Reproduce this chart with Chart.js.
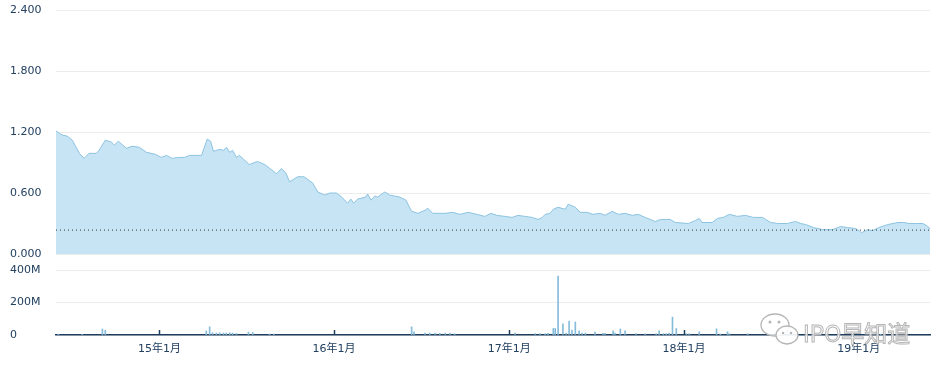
<!DOCTYPE html>
<html>
<head>
<meta charset="utf-8">
<script src="https://cdn.jsdelivr.net/npm/chart.js@4"></script>
<style>
  body { margin: 0; background: #fff; }
  #wrap { position: relative; width: 940px; height: 372px; overflow: hidden; }
  #top { position: absolute; left: 0; top: 0; }
  #bottom { position: absolute; left: 0; top: 262px; }
  #mark { position: absolute; left: 759px; top: 312px; pointer-events: none; }
  #mark span {
    position: absolute; left: 44px; top: 3px; white-space: nowrap;
    font: 23px 'Noto Sans CJK SC', 'DejaVu Sans', sans-serif;
    color: rgba(255,255,255,0.75); -webkit-text-stroke: 1px #b5b5b5;
  }
</style>
</head>
<body>
<div id="wrap">
  <canvas id="top" width="940" height="262"></canvas>
  <canvas id="bottom" width="940" height="110"></canvas>
  <div id="mark">
    <svg width="44" height="36" viewBox="0 0 44 36">
      <ellipse cx="16" cy="13" rx="14" ry="11" fill="rgba(255,255,255,0.8)" stroke="#b5b5b5" stroke-width="1.3"/>
      <ellipse cx="28" cy="23" rx="11" ry="9" fill="rgba(255,255,255,0.9)" stroke="#b5b5b5" stroke-width="1.3"/>
      <circle cx="11" cy="10" r="1.5" fill="#b5b5b5"/>
      <circle cx="20" cy="10" r="1.5" fill="#b5b5b5"/>
      <circle cx="24" cy="21" r="1.2" fill="#b5b5b5"/>
      <circle cx="32" cy="21" r="1.2" fill="#b5b5b5"/>
    </svg>
    <span>IPO早知道</span>
  </div>
</div>
<script>
// price (close) series
var priceDates = [
  "2014-05-30","2014-06-12","2014-06-22","2014-07-03","2014-07-18","2014-07-28","2014-08-07","2014-08-22",
  "2014-08-28","2014-09-10","2014-09-23","2014-09-29","2014-10-07","2014-10-24","2014-11-05","2014-11-20",
  "2014-12-05","2014-12-24","2015-01-05","2015-01-16","2015-01-28","2015-02-08","2015-02-22","2015-03-05",
  "2015-03-30","2015-04-05","2015-04-11","2015-04-18","2015-04-24","2015-05-07","2015-05-15","2015-05-21",
  "2015-05-28","2015-06-03","2015-06-11","2015-06-17","2015-07-08","2015-07-25","2015-08-09","2015-09-03",
  "2015-09-13","2015-09-22","2015-09-30","2015-10-17","2015-10-30","2015-11-11","2015-11-17","2015-11-28",
  "2015-12-12","2015-12-23","2016-01-06","2016-01-17","2016-01-29","2016-02-05","2016-02-11","2016-02-19",
  "2016-03-07","2016-03-11","2016-03-18","2016-03-26","2016-04-01","2016-04-16","2016-04-26","2016-05-07",
  "2016-05-17","2016-05-30","2016-06-11","2016-06-24","2016-07-09","2016-07-15","2016-07-25","2016-08-20",
  "2016-09-05","2016-09-20","2016-10-07","2016-10-25","2016-11-11","2016-11-24","2016-12-06","2016-12-23",
  "2017-01-07","2017-01-19","2017-02-03","2017-02-18","2017-03-02","2017-03-11","2017-03-17","2017-03-27",
  "2017-04-03","2017-04-13","2017-04-28","2017-05-04","2017-05-19","2017-05-29","2017-06-13","2017-06-25",
  "2017-07-10","2017-07-20","2017-08-04","2017-08-17","2017-08-31","2017-09-15","2017-09-27","2017-10-12",
  "2017-11-02","2017-11-13","2017-12-03","2017-12-14","2018-01-10","2018-01-25","2018-02-02","2018-02-08",
  "2018-03-01","2018-03-12","2018-03-24","2018-04-06","2018-04-23","2018-05-09","2018-05-26","2018-06-14",
  "2018-07-01","2018-07-17","2018-08-05","2018-08-22","2018-09-02","2018-09-12","2018-09-29","2018-10-18",
  "2018-11-08","2018-11-24","2018-12-09","2018-12-26","2019-01-07","2019-01-20","2019-01-30","2019-02-12",
  "2019-03-03","2019-03-24","2019-04-05","2019-04-16","2019-04-30","2019-05-15","2019-05-23","2019-05-30"
];
var priceValues = [
  1.21,1.17,1.16,1.12,0.99,0.94,0.99,0.99,
  1.02,1.12,1.10,1.07,1.11,1.04,1.06,1.05,
  1.00,0.98,0.95,0.97,0.94,0.95,0.95,0.97,
  0.97,1.05,1.13,1.11,1.01,1.03,1.02,1.05,
  1.00,1.02,0.95,0.97,0.88,0.91,0.88,0.79,
  0.84,0.80,0.71,0.76,0.76,0.72,0.70,0.61,
  0.58,0.60,0.60,0.56,0.50,0.54,0.50,0.54,
  0.56,0.59,0.53,0.57,0.56,0.61,0.58,0.57,
  0.56,0.53,0.42,0.40,0.43,0.45,0.40,0.40,
  0.41,0.39,0.41,0.39,0.37,0.40,0.38,0.37,
  0.36,0.38,0.37,0.36,0.34,0.36,0.39,0.40,
  0.44,0.46,0.44,0.49,0.46,0.41,0.41,0.39,
  0.40,0.38,0.42,0.39,0.40,0.38,0.39,0.36,
  0.32,0.34,0.34,0.31,0.30,0.33,0.35,0.31,
  0.31,0.35,0.36,0.39,0.37,0.38,0.36,0.36,
  0.31,0.30,0.30,0.32,0.30,0.29,0.26,0.24,
  0.24,0.27,0.26,0.25,0.21,0.24,0.23,0.26,
  0.29,0.31,0.31,0.30,0.30,0.30,0.28,0.25
];

// volume, millions of shares
var volumeDates = [
  "2014-06-04","2014-07-24","2014-09-04","2014-09-10","2015-04-09","2015-04-16","2015-04-22","2015-04-30",
  "2015-05-07","2015-05-15","2015-05-21","2015-05-28","2015-06-03","2015-06-11","2015-07-06","2015-07-15",
  "2015-08-19","2015-08-28","2016-06-11","2016-06-16","2016-07-09","2016-07-19","2016-07-30","2016-08-09",
  "2016-08-20","2016-08-30","2016-09-09","2017-01-13","2017-02-24","2017-03-06","2017-03-17","2017-03-23",
  "2017-04-03","2017-04-07","2017-04-13","2017-04-23","2017-04-30","2017-05-06","2017-05-12","2017-05-19",
  "2017-05-27","2017-06-02","2017-06-09","2017-06-29","2017-07-16","2017-07-20","2017-08-06","2017-08-10",
  "2017-08-21","2017-08-31","2017-09-23","2017-10-12","2017-11-04","2017-11-10","2017-11-19","2017-11-25",
  "2017-12-01","2017-12-08","2017-12-16","2018-01-06","2018-01-12","2018-02-02","2018-03-10","2018-03-18",
  "2018-04-02","2018-04-06","2018-05-14","2018-08-12","2019-02-16"
];
var volumeValues = [
  5,4,37,30,25,50,14,12,
  14,12,12,14,12,10,18,16,
  6,6,50,20,12,12,12,10,
  12,12,8,12,8,8,8,10,
  40,40,363,68,12,86,30,80,
  25,12,12,18,10,10,25,12,
  37,25,8,8,8,25,8,8,
  12,110,40,8,8,20,38,6,
  20,8,8,5,5
];

var tickYears = [2015, 2016, 2017, 2018, 2019];
var priceTicks = [0, 0.6, 1.2, 1.8, 2.4];
var volumeTicks = [0, 200, 400];
var refLevel = 0.235;
var startDate = "2014-05-30";
var endDate = "2019-05-30";

var textColor = "#22405f";
var font = { family: "'DejaVu Sans', 'Noto Sans CJK SC', sans-serif", size: 11 };

function ts(s) { return Date.parse(s); }

function xAxis(show) {
  var axis = {
    type: "linear",
    min: ts(startDate),
    max: ts(endDate),
    offset: false,
    display: show,
    afterBuildTicks: function (s) {
      s.ticks = tickYears.map(function (y) { return { value: Date.UTC(y, 0, 1) }; });
    },
    grid: { display: true, offset: false, drawOnChartArea: false, drawTicks: false },
    border: { display: true, color: "#1f3d5c", width: 1.5 },
    ticks: {
      padding: 8, color: textColor, font: font, maxRotation: 0, autoSkip: false,
      callback: function (v) {
        return String(new Date(v).getUTCFullYear()).slice(2) + "年1月";
      }
    }
  };
  if (show) axis.afterFit = function (s) { s.height = 30; };
  return axis;
}

// small tick marks pointing up from the volume axis
var upTicks = {
  id: "upTicks",
  afterDraw: function (chart) {
    var x = chart.scales.x, a = chart.chartArea, c = chart.ctx;
    c.save();
    c.strokeStyle = "#1f3d5c";
    c.lineWidth = 1.5;
    x.ticks.forEach(function (t) {
      var p = Math.round(x.getPixelForValue(t.value)) + 0.5;
      c.beginPath();
      c.moveTo(p, a.bottom);
      c.lineTo(p, a.bottom - 5);
      c.stroke();
    });
    c.restore();
  }
};

new Chart(document.getElementById("top"), {
  type: "line",
  data: {
    datasets: [
      {
        data: [{ x: ts(startDate), y: refLevel }, { x: ts(endDate), y: refLevel }],
        borderColor: "#333",
        borderWidth: 1,
        borderDash: [1, 3],
        pointRadius: 0,
        fill: false
      },
      {
        data: priceDates.map(function (d, i) { return { x: ts(d), y: priceValues[i] }; }),
        borderColor: "#8cc3e0",
        backgroundColor: "#c6e4f4",
        borderWidth: 1,
        pointRadius: 0,
        tension: 0,
        fill: "origin"
      }
    ]
  },
  options: {
    responsive: false,
    animation: false,
    layout: { padding: { top: 10, bottom: 8, left: 10, right: 10 } },
    plugins: { legend: { display: false }, tooltip: { enabled: false } },
    scales: {
      x: xAxis(false),
      y: {
        min: 0, max: 2.4,
        afterBuildTicks: function (s) { s.ticks = priceTicks.map(function (v) { return { value: v }; }); },
        afterFit: function (s) { s.width = 46; },
        border: { display: false },
        grid: { color: "#ececec", drawTicks: false },
        ticks: {
          crossAlign: "far", padding: 0, color: textColor, font: font,
          callback: function (v) { return v.toFixed(3); }
        }
      }
    }
  }
});

new Chart(document.getElementById("bottom"), {
  type: "bar",
  data: {
    datasets: [{
      data: volumeDates.map(function (d, i) { return { x: ts(d), y: volumeValues[i] }; }),
      backgroundColor: "#86bcd9",
      barThickness: 1
    }]
  },
  options: {
    responsive: false,
    animation: false,
    layout: { padding: { top: 8, bottom: 7, left: 10, right: 10 } },
    plugins: { legend: { display: false }, tooltip: { enabled: false } },
    scales: {
      x: xAxis(true),
      y: {
        min: 0, max: 400,
        afterBuildTicks: function (s) { s.ticks = volumeTicks.map(function (v) { return { value: v }; }); },
        afterFit: function (s) { s.width = 46; },
        border: { display: false },
        grid: { color: "#ececec", drawTicks: false },
        ticks: {
          crossAlign: "far", padding: 0, color: textColor, font: font,
          callback: function (v) { return v === 0 ? "0" : v + "M"; }
        }
      }
    }
  },
  plugins: [upTicks]
});
</script>
</body>
</html>
